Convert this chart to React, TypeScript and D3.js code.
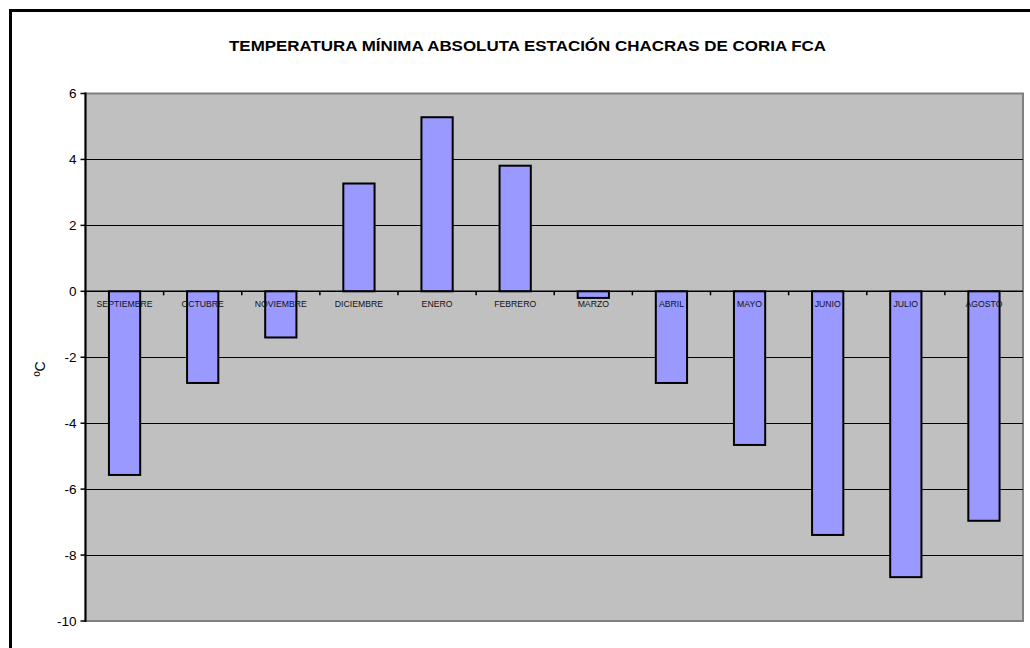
import React from "react";
import * as d3 from "d3";

const months = ["SEPTIEMBRE", "OCTUBRE", "NOVIEMBRE", "DICIEMBRE", "ENERO", "FEBRERO", "MARZO", "ABRIL", "MAYO", "JUNIO", "JULIO", "AGOSTO"];
const tmin = [-5.57, -2.78, -1.4, 3.27, 5.28, 3.81, -0.2, -2.78, -4.66, -7.39, -8.67, -6.96];
const yTicks = [6, 4, 2, 0, -2, -4, -6, -8, -10];
const title = "TEMPERATURA MÍNIMA ABSOLUTA ESTACIÓN CHACRAS DE CORIA FCA";
const yLabel = "ºC";

export default function App() {
  const W = 1030, H = 648;
  const L = 85.5, R = 1023, T = 93.5, B = 621;
  const x = d3.scaleBand<string>().domain(months).range([L, R]).paddingInner(0.6).paddingOuter(0.3);
  const xb = d3.scaleBand<string>().domain(months).range([L, R]);
  const y = d3.scaleLinear().domain([-10, 6]).range([B, T]);
  const font = "Liberation Sans, Arial, sans-serif";
  return (
    <svg width={W} height={H} style={{ position: "absolute", left: 0, top: 0 }} fontFamily={font}>
      <rect x={0} y={0} width={W} height={H} fill="#fff" />
      <rect x={10.5} y={10.5} width={1060} height={700} fill="none" stroke="#000" strokeWidth={3} />
      <text x={229} y={51} fontSize={15} fontWeight="bold" textLength={597} lengthAdjust="spacingAndGlyphs">{title}</text>
      <rect x={L} y={T} width={R - L} height={B - T} fill="#C0C0C0" stroke="#808080" strokeWidth={2} />
      {yTicks.filter(t => t !== 6 && t !== -10 && t !== 0).map(t => (
        <line key={t} x1={L} x2={R} y1={Math.round(y(t)) + 0.5} y2={Math.round(y(t)) + 0.5} stroke="#000" strokeWidth={1} />
      ))}
      {months.map((m, i) => {
        const v = tmin[i];
        const y0 = y(0), y1 = y(v);
        return (
          <rect key={m} x={x(m)!} y={Math.min(y0, y1)} width={x.bandwidth()} height={Math.abs(y1 - y0)}
            fill="#9999FF" stroke="#000" strokeWidth={2} />
        );
      })}
      <line x1={L} x2={R} y1={y(0)} y2={y(0)} stroke="#000" strokeWidth={1.5} />
      {months.map((m) => (
        <line key={"t" + m} x1={xb(m)!} x2={xb(m)!} y1={y(0)} y2={y(0) + 4} stroke="#000" strokeWidth={1.5} />
      ))}
      {months.map(m => (
        <text key={"l" + m} x={xb(m)! + xb.bandwidth() / 2} y={y(0) + 16} textAnchor="middle" fontSize={8.7} fill="#111">{m}</text>
      ))}
      <line x1={L} x2={L} y1={T - 1} y2={B + 1} stroke="#000" strokeWidth={2} />
      {yTicks.map(t => (
        <g key={"y" + t}>
          <line x1={L - 5} x2={L} y1={y(t)} y2={y(t)} stroke="#000" strokeWidth={1.5} />
          <text x={L - 9} y={y(t)} dy="0.36em" textAnchor="end" fontSize={13.5}>{t}</text>
        </g>
      ))}
      <text transform={`translate(45,${369}) rotate(-90)`} textAnchor="middle" fontSize={14}>{yLabel}</text>
    </svg>
  );
}
